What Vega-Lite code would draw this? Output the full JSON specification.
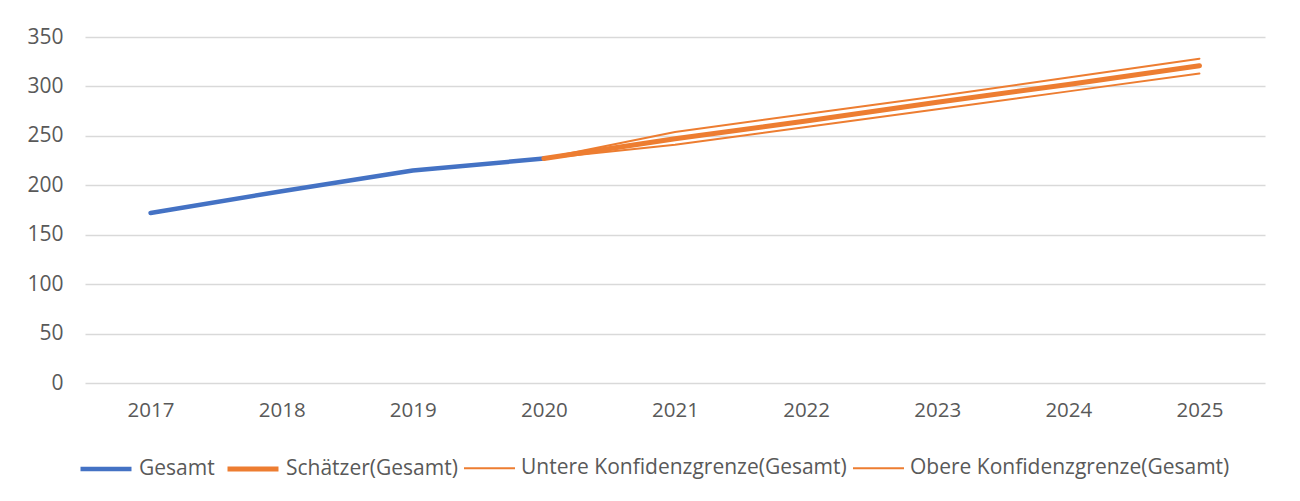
{
  "$schema": "https://vega.github.io/schema/vega-lite/v6.json",
  "width": 1180,
  "height": 346,
  "autosize": {"type": "none"},
  "padding": {"left": 85, "top": 37, "right": 35, "bottom": 118},
  "background": "white",
  "config": {
    "view": {"stroke": null},
    "font": "Open Sans"
  },
  "data": {
    "values": [
      {"year": "2017", "value": 172, "series": "Gesamt"},
      {"year": "2018", "value": 194, "series": "Gesamt"},
      {"year": "2019", "value": 215, "series": "Gesamt"},
      {"year": "2020", "value": 227, "series": "Gesamt"},
      {"year": "2020", "value": 227, "series": "Untere Konfidenzgrenze(Gesamt)"},
      {"year": "2021", "value": 241, "series": "Untere Konfidenzgrenze(Gesamt)"},
      {"year": "2022", "value": 259, "series": "Untere Konfidenzgrenze(Gesamt)"},
      {"year": "2023", "value": 277, "series": "Untere Konfidenzgrenze(Gesamt)"},
      {"year": "2024", "value": 295, "series": "Untere Konfidenzgrenze(Gesamt)"},
      {"year": "2025", "value": 313, "series": "Untere Konfidenzgrenze(Gesamt)"},
      {"year": "2020", "value": 227, "series": "Obere Konfidenzgrenze(Gesamt)"},
      {"year": "2021", "value": 254, "series": "Obere Konfidenzgrenze(Gesamt)"},
      {"year": "2022", "value": 272, "series": "Obere Konfidenzgrenze(Gesamt)"},
      {"year": "2023", "value": 290, "series": "Obere Konfidenzgrenze(Gesamt)"},
      {"year": "2024", "value": 309, "series": "Obere Konfidenzgrenze(Gesamt)"},
      {"year": "2025", "value": 328, "series": "Obere Konfidenzgrenze(Gesamt)"},
      {"year": "2020", "value": 227, "series": "Schätzer(Gesamt)"},
      {"year": "2021", "value": 247, "series": "Schätzer(Gesamt)"},
      {"year": "2022", "value": 265, "series": "Schätzer(Gesamt)"},
      {"year": "2023", "value": 284, "series": "Schätzer(Gesamt)"},
      {"year": "2024", "value": 302, "series": "Schätzer(Gesamt)"},
      {"year": "2025", "value": 321, "series": "Schätzer(Gesamt)"}
    ]
  },
  "mark": {"type": "line", "strokeCap": "round", "strokeJoin": "round"},
  "encoding": {
    "x": {
      "field": "year", "type": "ordinal",
      "scale": {"type": "point", "padding": 0.5},
      "axis": {"title": null, "labelAngle": 0, "domain": false, "ticks": false, "grid": false,
               "labelFontSize": 20.5, "labelColor": "#595959", "labelPadding": 17, "labelFont": "Open Sans"}
    },
    "y": {
      "field": "value", "type": "quantitative",
      "scale": {"domain": [0, 350], "nice": false},
      "axis": {"title": null, "values": [0, 50, 100, 150, 200, 250, 300, 350], "domain": false, "ticks": false,
               "grid": true, "gridColor": "#D9D9D9", "gridWidth": 1.5,
               "labelFontSize": 21, "labelColor": "#595959", "labelPadding": 22, "labelFont": "Open Sans"}
    },
    "color": {
      "field": "series", "type": "nominal",
      "scale": {
        "domain": ["Gesamt", "Schätzer(Gesamt)", "Untere Konfidenzgrenze(Gesamt)", "Obere Konfidenzgrenze(Gesamt)"],
        "range": ["#4472C4", "#ED7D31", "#ED7D31", "#ED7D31"]
      },
      "legend": {
        "title": null, "orient": "none", "direction": "horizontal", "legendX": -7, "legendY": 404,
        "symbolType": "stroke", "symbolSize": 2600, "labelFontSize": 21, "labelColor": "#595959",
        "labelFont": "Open Sans", "labelOffset": 5, "columnPadding": 2, "labelLimit": 500
      }
    },
    "strokeWidth": {
      "field": "series", "type": "ordinal",
      "scale": {
        "type": "ordinal",
        "domain": ["Gesamt", "Schätzer(Gesamt)", "Untere Konfidenzgrenze(Gesamt)", "Obere Konfidenzgrenze(Gesamt)"],
        "range": [4.5, 5, 2, 2]
      },
      "legend": {
        "title": null, "orient": "none", "direction": "horizontal", "legendX": -7, "legendY": 404,
        "symbolType": "stroke", "symbolSize": 2600, "labelFontSize": 21, "labelColor": "#595959",
        "labelFont": "Open Sans", "labelOffset": 5, "columnPadding": 2, "labelLimit": 500
      }
    }
  }
}
